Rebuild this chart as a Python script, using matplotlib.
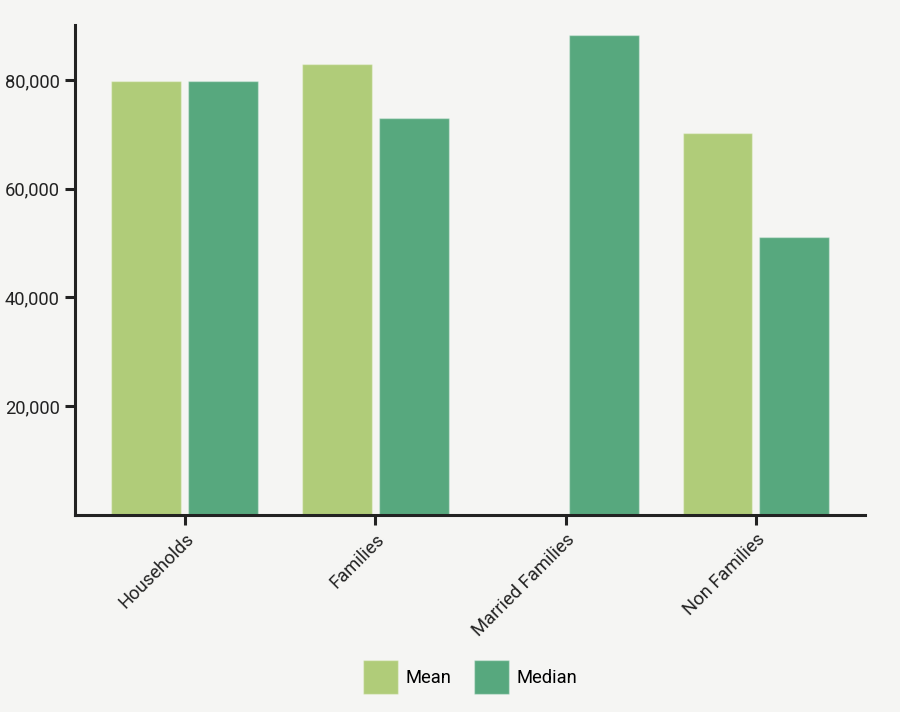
import matplotlib
matplotlib.use("Agg")
import matplotlib.pyplot as plt
import numpy as np
from matplotlib.patches import Patch

categories = ["Households", "Families", "Married Families", "Non Families"]
mean_vals = [79800, 82950, 0, 70200]
median_vals = [79800, 73000, 88350, 51200]
series_names = ["Mean", "Median"]
yticks = [20000, 40000, 60000, 80000]
ytick_labels = ["20,000", "40,000", "60,000", "80,000"]

c_mean = "#b0cc79"
c_median = "#57a87e"
bg = "#f5f5f3"

plt.rcParams['font.family'] = ['Roboto', 'DejaVu Sans']

fig = plt.figure(figsize=(9, 7.12), dpi=100, facecolor=bg)
ax = fig.add_axes([75/900, 1-515/712, 790/900, 490/712])
ax.set_facecolor(bg)

x = np.arange(len(categories))
w = 0.367
off = 0.202
ax.bar(x - off, mean_vals, width=w, color=c_mean, edgecolor=(1, 1, 1, 0.35), linewidth=1)
ax.bar(x + off, median_vals, width=w, color=c_median, edgecolor=(1, 1, 1, 0.35), linewidth=1)

ax.set_xlim(-0.577, 3.573)
ax.set_ylim(0, 90100)
ax.set_yticks(yticks)
ax.set_yticklabels(ytick_labels, fontsize=13.2, color="#222222")
ax.set_xticks(x)
ax.set_xticklabels(categories, rotation=45, ha="right", va="top", rotation_mode="anchor",
                   fontsize=13.2, color="#222222")

for s in ["top", "right"]:
    ax.spines[s].set_visible(False)
for s in ["left", "bottom"]:
    ax.spines[s].set_linewidth(2.2)
    ax.spines[s].set_color("#222222")
ax.tick_params(axis="both", length=7, width=2.2, color="#222222", pad=4)

handles = [Patch(facecolor=c_mean, edgecolor=(1, 1, 1, 0.35)), Patch(facecolor=c_median, edgecolor=(1, 1, 1, 0.35))]
fig.legend(handles, series_names, loc="center", bbox_to_anchor=(470/900, 1-677/712), ncol=2,
           frameon=False, fontsize=13.2, handlelength=1.95, handleheight=2.5, handletextpad=0.4,
           columnspacing=1.2)

fig.savefig("out.png", dpi=100, facecolor=bg)
